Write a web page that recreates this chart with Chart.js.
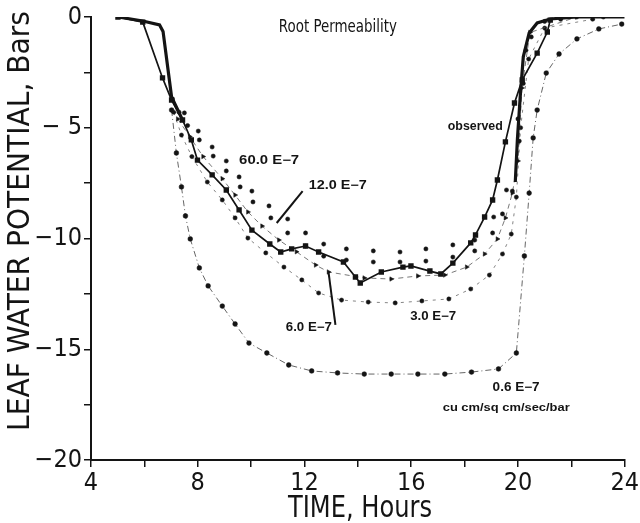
<!DOCTYPE html>
<html>
<head>
<meta charset="utf-8">
<script src="https://cdn.jsdelivr.net/npm/chart.js@4.4.1/dist/chart.umd.min.js"></script>
<style>
  html, body { margin: 0; padding: 0; background: #fff; }
  #wrap { width: 640px; height: 523px; position: relative; }
</style>
</head>
<body>
<div id="wrap"><canvas id="c" width="640" height="523"></canvas></div>
<script>
// Leaf water potential (bars) against time of day (hours)

const xTickValues = [4, 8, 12, 16, 20, 24];
const yTickValues = [0, -5, -10, -15, -20];
const yTickLabels = ['0', '\u2212 5', '\u221210', '\u221215', '\u221220'];

// observed curve
const observedHours = [5.01, 5.94, 6.68, 7.02, 7.43, 7.76, 7.99, 8.54, 9.07, 9.55, 10.03, 10.70, 11.11, 11.52, 12.04, 12.53, 13.46, 13.91, 14.09, 14.88, 15.69, 15.99, 16.70, 17.11, 17.56, 18.23, 18.41, 18.75, 19.05, 19.23, 19.53, 19.87, 20.16, 20.72, 21.10, 21.21];
const observedBars  = [0, -0.23, -2.75, -3.75, -4.65, -5.55, -6.46, -7.13, -7.81, -8.71, -9.62, -10.25, -10.61, -10.47, -10.34, -10.61, -11.06, -11.74, -12.01, -11.51, -11.29, -11.24, -11.47, -11.60, -11.11, -10.20, -9.84, -9.03, -8.26, -7.36, -5.64, -3.88, -2.84, -1.63, -0.68, -0.14];

// heavy trace: morning drop and evening recovery
const heavyAmHours = [5.01, 5.94, 6.57, 6.70, 7.02, 7.43];
const heavyAmBars  = [0, -0.18, -0.36, -0.65, -3.61, -4.65];
const heavyPmHours = [19.90, 19.98, 20.09, 20.20, 20.42, 20.72, 21.21, 22.21, 24.0];
const heavyPmBars  = [-7.45, -5.5, -3.5, -1.8, -0.72, -0.27, -0.09, 0, 0];

// simulated, root permeability 60.0 E-7
const k600Hours = [7.05, 7.50, 8.02, 8.54, 9.07, 9.55, 10.03, 10.67, 11.37, 12.04, 12.72, 13.57, 14.58, 15.58, 16.55, 17.56, 18.38, 19.09, 19.57, 20.00, 20.30, 21.00, 22.20, 23.20];
const k600Bars  = [-3.7, -4.33, -5.15, -5.87, -6.50, -7.22, -7.86, -8.53, -9.12, -9.75, -10.25, -10.47, -10.56, -10.61, -10.47, -10.29, -10.07, -9.03, -7.81, -4.6, -1.5, -0.2, 0, 0];

// simulated, 12.0 E-7
const k120Hours = [7.30, 7.62, 8.06, 8.58, 9.07, 9.59, 10.07, 10.74, 11.37, 12.04, 12.72, 13.57, 14.58, 15.58, 16.55, 17.56, 18.38, 19.05, 19.42, 19.79, 20.05, 20.20, 20.50, 21.60];
const k120Bars  = [-4.3, -4.9, -5.55, -6.28, -6.95, -7.67, -8.35, -9.07, -9.75, -10.34, -10.80, -10.97, -11.06, -11.06, -11.02, -10.84, -10.56, -9.75, -8.89, -7.86, -5.6, -3.0, -0.9, -0.1];

// simulated, 6.0 E-7
const k60Hours = [7.25, 7.70, 8.20, 8.92, 9.40, 9.88, 10.41, 11.04, 11.70, 12.42, 12.90, 14.24, 15.25, 16.25, 17.26, 18.08, 18.75, 19.23, 19.53, 19.79, 20.00, 20.15, 20.45, 22.20];
const k60Bars  = [-4.6, -5.4, -6.3, -7.3, -8.04, -8.80, -9.44, -10.07, -10.60, -11.20, -11.51, -11.78, -11.83, -11.69, -11.65, -11.29, -10.70, -10.02, -9.07, -7.95, -6.5, -3.2, -0.7, 0];

// simulated, 3.0 E-7
const k30Hours = [7.10, 7.39, 7.78, 8.36, 8.92, 9.40, 9.88, 10.55, 11.23, 11.90, 12.53, 13.39, 14.39, 15.40, 16.40, 17.41, 18.23, 18.93, 19.42, 19.75, 19.94, 20.10, 20.40, 21.00, 22.80];
const k30Bars  = [-4.3, -5.33, -6.3, -7.45, -8.26, -9.07, -9.98, -10.65, -11.29, -11.87, -12.46, -12.78, -12.87, -12.91, -12.82, -12.73, -12.28, -11.65, -10.70, -9.80, -8.13, -5.0, -1.9, -0.5, -0.1];

// simulated, 0.6 E-7
const k06Hours = [7.02, 7.20, 7.39, 7.54, 7.72, 8.06, 8.39, 8.92, 9.40, 9.92, 10.59, 11.41, 12.27, 13.24, 14.24, 15.25, 16.25, 17.26, 18.26, 19.27, 19.94, 20.24, 20.42, 20.57, 20.72, 21.06, 21.54, 22.21, 23.03, 23.89];
const k06Bars  = [-4.2, -6.14, -7.67, -8.98, -10.02, -11.33, -12.14, -13.05, -13.86, -14.72, -15.17, -15.71, -15.98, -16.07, -16.12, -16.12, -16.12, -16.12, -16.03, -15.89, -15.17, -10.79, -7.95, -5.46, -4.20, -2.53, -1.67, -0.99, -0.54, -0.32];

const INK = '#141414';
const NARROW = "'Liberation Sans Narrow', 'DejaVu Sans Condensed', sans-serif";
const PLAIN = "'Liberation Sans', Arial, sans-serif";

function pairs(xs, ys) { return xs.map((x, i) => ({ x: x, y: ys[i] })); }

// text placed in data coordinates, squeezed/stretched to a given width
const notes = [
  { text: 'Root Permeability', h: 11.04, v: -0.50, w: 118, font: '17px ' + NARROW },
  { text: '60.0 E\u22127', h: 9.55, v: -6.50, w: 60, font: 'bold 12px ' + PLAIN },
  { text: '12.0 E\u22127', h: 12.16, v: -7.63, w: 58, font: 'bold 12px ' + PLAIN },
  { text: 'observed', h: 17.37, v: -4.97, w: 55, font: 'bold 12px ' + PLAIN },
  { text: '6.0 E\u22127', h: 11.30, v: -14.04, w: 46, font: 'bold 12px ' + PLAIN },
  { text: '3.0 E\u22127', h: 15.96, v: -13.54, w: 46, font: 'bold 12px ' + PLAIN },
  { text: '0.6 E\u22127', h: 19.05, v: -16.75, w: 47, font: 'bold 12px ' + PLAIN },
  { text: 'cu cm/sq cm/sec/bar', h: 17.18, v: -17.65, w: 127, font: 'bold 11px ' + PLAIN }
];
const leaders = [
  { h1: 10.96, v1: -9.30, h2: 11.93, v2: -7.86 },
  { h1: 13.16, v1: -13.90, h2: 12.90, v2: -11.51 }
];

function fitText(ctx, text, x, y, font, width, rotate) {
  ctx.save();
  ctx.font = font;
  const m = ctx.measureText(text).width;
  ctx.translate(x, y);
  if (rotate) ctx.rotate(rotate);
  ctx.scale(width / m, 1);
  ctx.textBaseline = 'middle';
  ctx.textAlign = rotate ? 'center' : 'left';
  ctx.fillStyle = INK;
  ctx.fillText(text, 0, 0);
  ctx.restore();
}

const labelPlugin = {
  id: 'labels',
  afterDraw(chart) {
    const ctx = chart.ctx;
    const xs = chart.scales.x, ys = chart.scales.y;
    notes.forEach(n => {
      fitText(ctx, n.text, xs.getPixelForValue(n.h), ys.getPixelForValue(n.v), n.font, n.w);
    });
    ctx.save();
    ctx.strokeStyle = INK;
    ctx.lineWidth = 2;
    leaders.forEach(l => {
      ctx.beginPath();
      ctx.moveTo(xs.getPixelForValue(l.h1), ys.getPixelForValue(l.v1));
      ctx.lineTo(xs.getPixelForValue(l.h2), ys.getPixelForValue(l.v2));
      ctx.stroke();
    });
    ctx.restore();
    // axis titles
    fitText(ctx, 'LEAF WATER POTENTIAL, Bars', 21, 221, '30px ' + NARROW, 420, -Math.PI / 2);
    ctx.save();
    ctx.font = '30px ' + NARROW;
    const tw = ctx.measureText('TIME, Hours').width;
    ctx.restore();
    fitText(ctx, 'TIME, Hours', 360 - 72, 509, '30px ' + NARROW, 144);
  }
};

const dotStyle = {
  showLine: false,
  pointRadius: 2.1,
  pointHoverRadius: 2.1,
  pointBackgroundColor: INK,
  pointBorderColor: INK,
  pointBorderWidth: 0.5
};

new Chart(document.getElementById('c'), {
  type: 'scatter',
  data: {
    datasets: [
      { label: 'observed', data: pairs(observedHours, observedBars), showLine: true,
        borderColor: INK, borderWidth: 1.7, pointStyle: 'rect', pointRadius: 2.6,
        pointBackgroundColor: INK, pointBorderColor: INK, order: 1 },
      { label: 'heavy am', data: pairs(heavyAmHours, heavyAmBars), showLine: true,
        borderColor: INK, borderWidth: 3.2, pointRadius: 0, order: 2 },
      { label: 'heavy pm', data: pairs(heavyPmHours, heavyPmBars), showLine: true,
        borderColor: INK, borderWidth: 3.2, pointRadius: 0, order: 2 },
      Object.assign({ label: '60.0 E-7', data: pairs(k600Hours, k600Bars), order: 3 }, dotStyle),
      Object.assign({ label: '12.0 E-7', data: pairs(k120Hours, k120Bars), order: 3 }, dotStyle),
      Object.assign({ label: '6.0 E-7', data: pairs(k60Hours, k60Bars), order: 3 }, dotStyle,
        { showLine: true, borderColor: '#555', borderWidth: 0.8, borderDash: [5, 4],
          pointStyle: 'triangle', pointRotation: 90, pointRadius: 2.6 }),
      Object.assign({ label: '3.0 E-7', data: pairs(k30Hours, k30Bars), order: 3 }, dotStyle,
        { showLine: true, borderColor: '#666', borderWidth: 0.8, borderDash: [3, 5] }),
      Object.assign({ label: '0.6 E-7', data: pairs(k06Hours, k06Bars), order: 3 }, dotStyle,
        { showLine: true, borderColor: '#555', borderWidth: 0.9, borderDash: [6, 3, 1, 3], pointRadius: 2.4 })
    ]
  },
  options: {
    responsive: false,
    animation: false,
    devicePixelRatio: 1,
    layout: { padding: { left: 0, right: 12, top: 17, bottom: 0 } },
    plugins: { legend: { display: false }, tooltip: { enabled: false }, title: { display: false } },
    scales: {
      x: {
        type: 'linear', min: 4, max: 24,
        afterFit(s) { s.height = 63; },
        ticks: {
          stepSize: 2, autoSkip: false, maxRotation: 0, padding: 1, color: INK,
          font: { family: NARROW, size: 25 },
          callback: v => xTickValues.includes(v) ? String(v) : ''
        },
        grid: { display: true, drawOnChartArea: false, drawTicks: true, tickLength: 7, color: INK, lineWidth: 1.5 },
        border: { display: true, color: INK, width: 2 }
      },
      y: {
        type: 'linear', min: -20, max: 0,
        afterFit(s) { s.width = 91; },
        ticks: {
          stepSize: 2.5, autoSkip: false, padding: 2, color: INK,
          font: { family: NARROW, size: 25 },
          callback: v => { const i = yTickValues.indexOf(v); return i >= 0 ? yTickLabels[i] : ''; }
        },
        grid: { display: true, drawOnChartArea: false, drawTicks: true, tickLength: 7, color: INK, lineWidth: 1.5 },
        border: { display: true, color: INK, width: 2 }
      }
    }
  },
  plugins: [labelPlugin]
});
</script>
</body>
</html>
